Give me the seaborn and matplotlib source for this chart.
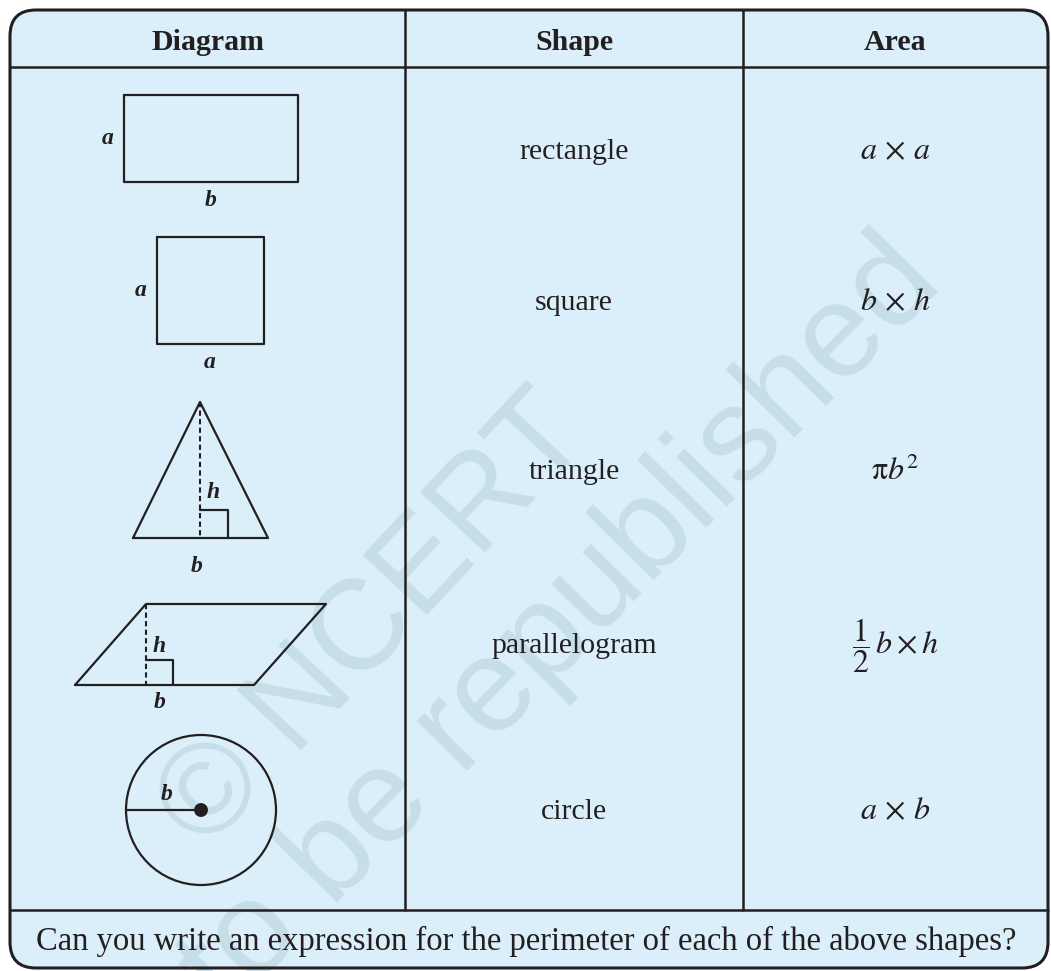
import matplotlib
matplotlib.use("Agg")
import matplotlib.pyplot as plt
import seaborn as sns
from matplotlib.patches import FancyBboxPatch, Circle

# ---------------- data ----------------
headers = ["Diagram", "Shape", "Area"]
shape_names = ["rectangle", "square", "triangle", "parallelogram", "circle"]
area_labels = [r"$a\,\times\,a$", r"$b\,\times\,h$", r"$\mathrm{\pi}b^{2}$",
               r"$\dfrac{1}{2}\,b\times h$", r"$a\,\times\,b$"]
question = "Can you write an expression for the perimeter of each of the above shapes?"
watermark_lines = ["© NCERT", "not to be republished"]

# shape outlines (pixel coordinates in the diagram column)
rect_x = [124, 298, 298, 124, 124]
rect_y = [95, 95, 182, 182, 95]
square_x = [157, 264, 264, 157, 157]
square_y = [237, 237, 344, 344, 237]
tri_x = [133, 268, 200, 133]
tri_y = [538, 538, 402, 538]
tri_h_x = [200, 200]
tri_h_y = [402, 538]
tri_ra_x = [200, 228, 228]
tri_ra_y = [510, 510, 538]
para_x = [75, 254, 326, 146, 75]
para_y = [685, 685, 604, 604, 685]
para_h_x = [146, 146]
para_h_y = [604, 685]
para_ra_x = [146, 173, 173]
para_ra_y = [660, 660, 685]
circ_center = (201, 810)
circ_radius = 75
radius_x = [126, 201]
radius_y = [810, 810]

dim_labels = ["a", "b", "a", "a", "h", "b", "h", "b", "b"]
dim_x = [108, 211, 141, 210, 213, 197, 159, 160, 167]
dim_y = [139, 201, 291, 363, 493, 566, 647, 703, 795]

row_y = [152, 303, 472, 646, 812]
col_edges = [10, 405, 743, 1048]
header_line_y = 67
footer_line_y = 910

# ---------------- style ----------------
sns.set_theme(style="white")
plt.rcParams["font.family"] = ["Liberation Serif", "DejaVu Serif"]
plt.rcParams["mathtext.fontset"] = "stix"

ink = "#231f20"
bg = "#dbeffa"
wm_color = "#c6dee8"

fig = plt.figure(figsize=(10.51, 9.71), dpi=100)
ax = fig.add_axes([0, 0, 1, 1])
ax.set_xlim(0, 1051)
ax.set_ylim(971, 0)
ax.axis("off")

# outer rounded box
box = FancyBboxPatch((col_edges[0], 10), col_edges[-1] - col_edges[0], 968 - 10,
                     boxstyle="round,pad=0,rounding_size=26",
                     facecolor=bg, edgecolor="none", zorder=0)
ax.add_patch(box)
box_edge = FancyBboxPatch((col_edges[0], 10), col_edges[-1] - col_edges[0], 968 - 10,
                          boxstyle="round,pad=0,rounding_size=26",
                          facecolor="none", edgecolor=ink, lw=2.2, zorder=5)
ax.add_patch(box_edge)

# watermark
wm1 = ax.text(376, 622, watermark_lines[0], fontsize=92, family="Liberation Sans",
              color=wm_color, rotation=47, rotation_mode="anchor",
              ha="center", va="center", zorder=1)
wm2 = ax.text(484, 705, watermark_lines[1], fontsize=96, family="Liberation Sans",
              color=wm_color, rotation=45.5, rotation_mode="anchor",
              ha="center", va="center", zorder=1)
wm1.set_clip_path(box)
wm2.set_clip_path(box)

# table grid lines
sns.lineplot(x=[col_edges[0], col_edges[-1]], y=[header_line_y, header_line_y],
             sort=False, estimator=None, color=ink, lw=1.8, ax=ax, zorder=4)
sns.lineplot(x=[col_edges[0], col_edges[-1]], y=[footer_line_y, footer_line_y],
             sort=False, estimator=None, color=ink, lw=1.8, ax=ax, zorder=4)
for cx in col_edges[1:3]:
    sns.lineplot(x=[cx, cx], y=[10, footer_line_y], sort=False, estimator=None,
                 color=ink, lw=1.8, ax=ax, zorder=4)

# headers
for i, h in enumerate(headers):
    cx = (col_edges[i] + col_edges[i + 1]) / 2
    ax.text(cx, 42, h, fontsize=21.5, fontweight="bold", color=ink,
            ha="center", va="center", zorder=6)

# shape names and areas
c2 = (col_edges[1] + col_edges[2]) / 2
c3 = (col_edges[2] + col_edges[3]) / 2
for y, name, area in zip(row_y, shape_names, area_labels):
    ax.text(c2, y, name, fontsize=21.5, color=ink, ha="center", va="center", zorder=6)
    ax.text(c3, y, area, fontsize=23, color=ink, ha="center", va="center", zorder=6)

# diagrams
solid = dict(sort=False, estimator=None, color=ink, lw=1.6, ax=ax, zorder=4)
dashed = dict(sort=False, estimator=None, color=ink, lw=1.5, ax=ax, zorder=4,
              linestyle=(0, (2.5, 1.6)))
for xs, ys in [(rect_x, rect_y), (square_x, square_y), (tri_x, tri_y),
               (tri_ra_x, tri_ra_y), (para_x, para_y), (para_ra_x, para_ra_y),
               (radius_x, radius_y)]:
    sns.lineplot(x=xs, y=ys, **solid)
for xs, ys in [(tri_h_x, tri_h_y), (para_h_x, para_h_y)]:
    sns.lineplot(x=xs, y=ys, **dashed)
ax.add_patch(Circle(circ_center, circ_radius, facecolor="none", edgecolor=ink,
                    lw=1.6, zorder=4))
sns.scatterplot(x=[circ_center[0]], y=[circ_center[1]], s=100, color=ink,
                edgecolor="none", ax=ax, zorder=5)

for lab, x, y in zip(dim_labels, dim_x, dim_y):
    ax.text(x, y, lab, fontsize=17, fontweight="bold", fontstyle="italic",
            color=ink, ha="center", va="center", zorder=6)

# question row
ax.text((28 + 1025) / 2, 941, question, fontsize=23.5, color=ink,
        ha="center", va="center", zorder=6)

fig.savefig("out.png", dpi=100, facecolor="white")
